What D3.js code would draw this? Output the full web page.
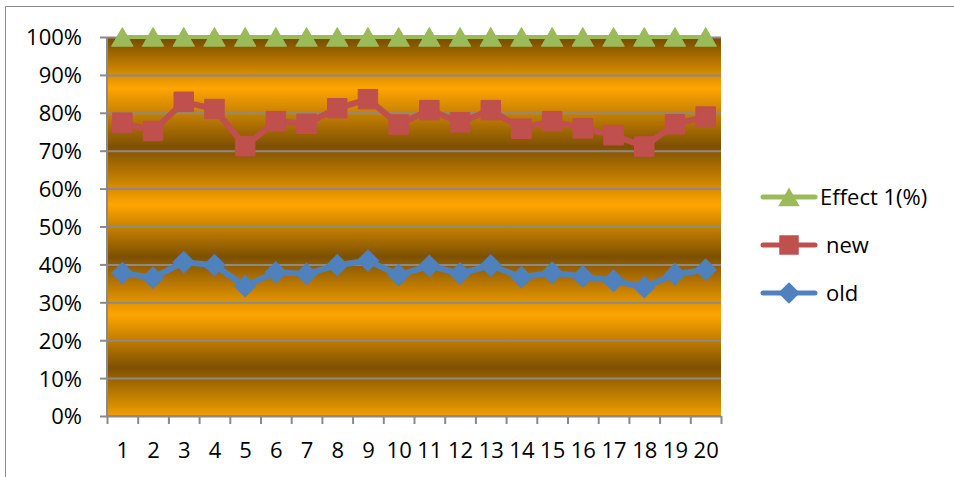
<!DOCTYPE html>
<html>
<head>
<meta charset="utf-8">
<script src="https://cdn.jsdelivr.net/npm/d3@7"></script>
<style>
  body { margin: 0; background: #fff; }
  text { font-family: "Open Sans", sans-serif; fill: #000; }
</style>
</head>
<body>
<div id="vis"></div>
<script>
// datos
var categories = d3.range(1, 21);
var effect = [1, 1, 1, 1, 1, 1, 1, 1, 1, 1, 1, 1, 1, 1, 1, 1, 1, 1, 1, 1];
var newVals = [0.774, 0.752, 0.829, 0.81, 0.712, 0.778, 0.771, 0.812, 0.836, 0.769,
               0.807, 0.775, 0.807, 0.758, 0.778, 0.759, 0.741, 0.711, 0.77, 0.79];
var oldVals = [0.377, 0.365, 0.406, 0.398, 0.343, 0.379, 0.375, 0.398, 0.41, 0.372,
               0.396, 0.376, 0.397, 0.366, 0.378, 0.368, 0.357, 0.34, 0.374, 0.386];
var yTicks = [0, 0.1, 0.2, 0.3, 0.4, 0.5, 0.6, 0.7, 0.8, 0.9, 1];
var seriesNames = ["Effect 1(%)", "new", "old"];

var series = [
    { name: seriesNames[0], values: effect, color: "#9BBB59", shape: "triangle" },
    { name: seriesNames[1], values: newVals, color: "#C0504D", shape: "square" },
    { name: seriesNames[2], values: oldVals, color: "#4F81BD", shape: "diamond" }
];

var W = 954, H = 477;
var plot = { left: 107, right: 721, top: 37, bottom: 416 };
var fontSize = "22px";

var svg = d3.select("#vis").append("svg")
    .attr("width", W)
    .attr("height", H);

// borde del grafico
svg.append("line").attr("x1", 5.5).attr("x2", W).attr("y1", 6.5).attr("y2", 6.5)
    .attr("stroke", "#8c8c8c").attr("stroke-width", 1);
svg.append("line").attr("x1", 5.5).attr("x2", 5.5).attr("y1", 6.5).attr("y2", H)
    .attr("stroke", "#8c8c8c").attr("stroke-width", 1);

var x = d3.scaleLinear()
    .domain([0.5, categories.length + 0.5])
    .range([plot.left, plot.right]);

var y = d3.scaleLinear()
    .domain([0, 1])
    .range([plot.bottom, plot.top]);

// fondo con degradado
var defs = svg.append("defs");
var grad = defs.append("linearGradient")
    .attr("id", "bg")
    .attr("x1", 0).attr("x2", 0).attr("y1", 0).attr("y2", 1);
var dark = "#7d5000", orange = "#ffa500";
[[0, "#835400"], [0.01, dark], [0.135, orange], [0.29, dark], [0.443, orange],
 [0.58, dark], [0.733, orange], [0.873, dark], [1, "#f0a000"]].forEach(function(s) {
    grad.append("stop").attr("offset", s[0]).attr("stop-color", s[1]);
});

svg.append("rect")
    .attr("x", plot.left)
    .attr("y", plot.top)
    .attr("width", plot.right - plot.left)
    .attr("height", plot.bottom - plot.top)
    .attr("fill", "url(#bg)");

// lineas de grilla
var grid = svg.append("g")
    .attr("transform", "translate(" + plot.left + ",0)")
    .call(d3.axisLeft(y).tickValues(yTicks).tickSize(-(plot.right - plot.left)).tickFormat(""));
grid.select(".domain").remove();
grid.selectAll("line").attr("stroke", "#8a8a8a").attr("stroke-width", 2);

// eje y
var yAxis = svg.append("g")
    .attr("transform", "translate(" + plot.left + ",0)")
    .call(d3.axisLeft(y).tickValues(yTicks).tickFormat(d3.format(".0%")).tickSize(7).tickPadding(18));
yAxis.select(".domain").attr("stroke", "#8a8a8a").attr("stroke-width", 2)
    .attr("d", "M0," + plot.top + "V" + plot.bottom);
yAxis.selectAll("line").attr("stroke", "#8a8a8a").attr("stroke-width", 2);
yAxis.selectAll("text").style("font-size", fontSize).attr("dy", "0.36em");

// eje x
var xTickAxis = svg.append("g")
    .attr("transform", "translate(0," + plot.bottom + ")")
    .call(d3.axisBottom(x).tickValues(d3.range(0.5, categories.length + 1, 1)).tickFormat("").tickSize(8));
xTickAxis.select(".domain").attr("stroke", "#8a8a8a").attr("stroke-width", 2)
    .attr("d", "M" + plot.left + ",0H" + plot.right);
xTickAxis.selectAll("line").attr("stroke", "#8a8a8a").attr("stroke-width", 2);

var xAxis = svg.append("g")
    .attr("transform", "translate(0," + plot.bottom + ")")
    .call(d3.axisBottom(x).tickValues(categories).tickFormat(d3.format("d")).tickSize(0).tickPadding(26));
xAxis.select(".domain").remove();
xAxis.selectAll("text").style("font-size", fontSize).attr("dy", "0.71em");

// simbolos
var symbolTypes = {
    triangle: d3.symbolTriangle,
    square: d3.symbolSquare,
    diamond: d3.symbolSquare
};
var symbolSizes = { triangle: 200, square: 380, diamond: 230 };
var symbolRotate = { triangle: 0, square: 0, diamond: 45 };
// el triangulo de d3 esta centrado en su baricentro, se baja para centrar la caja
var symbolShift = { triangle: 3, square: 0, diamond: 0 };

var line = d3.line()
    .x(function(d, i) { return x(categories[i]); })
    .y(function(d) { return y(d); });

var seriesG = svg.append("g");
// orden de dibujo: old, new, effect encima
series.slice().reverse().forEach(function(s) {
    var g = seriesG.append("g");
    g.append("path")
        .datum(s.values)
        .attr("fill", "none")
        .attr("stroke", s.color)
        .attr("stroke-width", s.shape == "triangle" ? 4 : 6)
        .attr("stroke-linejoin", "round")
        .attr("stroke-linecap", "round")
        .attr("d", line);
    g.selectAll("path.pt")
        .data(s.values)
        .enter().append("path")
        .attr("class", "pt")
        .attr("transform", function(d, i) {
            return "translate(" + x(categories[i]) + "," + (y(d) + symbolShift[s.shape]) + ") rotate(" + symbolRotate[s.shape] + ")";
        })
        .attr("d", d3.symbol().type(symbolTypes[s.shape]).size(symbolSizes[s.shape]))
        .attr("fill", s.color)
        .attr("stroke", s.color)
        .attr("stroke-width", 1);
});

// leyenda
var legend = svg.append("g");
series.forEach(function(s, i) {
    var ly = 197 + i * 48;
    legend.append("line")
        .attr("x1", 763).attr("x2", 815)
        .attr("y1", ly).attr("y2", ly)
        .attr("stroke", s.color)
        .attr("stroke-width", 5)
        .attr("stroke-linecap", "round");
    legend.append("path")
        .attr("transform", "translate(789," + (ly + symbolShift[s.shape]) + ") rotate(" + symbolRotate[s.shape] + ")")
        .attr("d", d3.symbol().type(symbolTypes[s.shape]).size(symbolSizes[s.shape]))
        .attr("fill", s.color);
    legend.append("text")
        .attr("x", i == 0 ? 820 : 826)
        .attr("y", ly)
        .attr("dy", "0.35em")
        .style("font-size", fontSize)
        .text(s.name);
});
</script>
</body>
</html>
